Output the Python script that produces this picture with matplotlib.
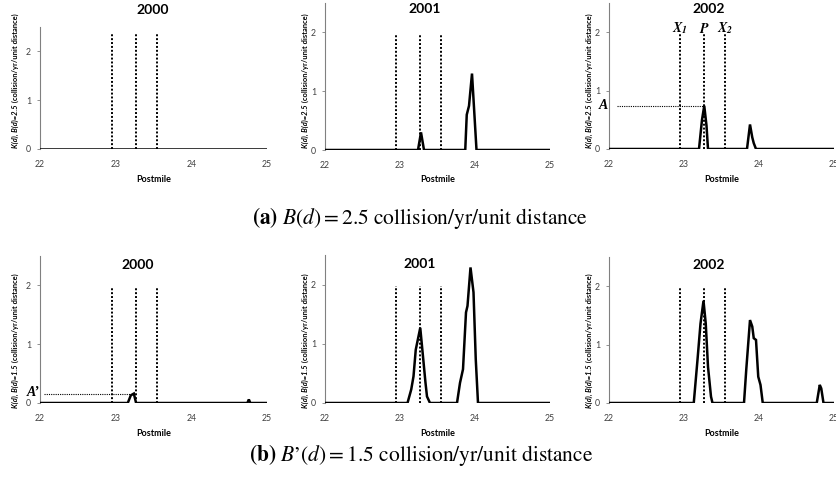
import matplotlib
matplotlib.use("Agg")
import matplotlib.pyplot as plt

plt.rcParams['font.family'] = ['Lato', 'DejaVu Sans']

W, H = 836, 491

# postmile / density readings (top row: B(d)=2.5, bottom row: B'(d)=1.5)
top_2000_x = [22, 25]
top_2000_y = [0, 0]
top_2001_x = [22, 23.24, 23.28, 23.32, 23.87, 23.89, 23.92, 23.96, 24.02, 25]
top_2001_y = [0, 0, 0.30, 0, 0, 0.60, 0.75, 1.30, 0, 0]
top_2002_x = [22, 23.20, 23.24, 23.27, 23.30, 23.32, 23.84, 23.88, 23.91, 23.93, 23.96, 25]
top_2002_y = [0, 0, 0.50, 0.74, 0.40, 0, 0, 0.42, 0.20, 0.10, 0, 0]

bot_2000_x = [22, 23.16, 23.20, 23.24, 23.27, 24.74, 24.76, 24.78, 25]
bot_2000_y = [0, 0, 0.13, 0.16, 0, 0, 0.06, 0, 0]
bot_2001_x = [22, 23.10, 23.15, 23.18, 23.21, 23.27, 23.31, 23.34, 23.36, 23.40,
              23.76, 23.80, 23.84, 23.88, 23.90, 23.94, 23.98, 24.01, 24.04, 25]
bot_2001_y = [0, 0, 0.23, 0.45, 0.90, 1.27, 0.74, 0.34, 0.11, 0,
              0, 0.34, 0.57, 1.53, 1.64, 2.29, 1.87, 0.74, 0, 0]
bot_2002_x = [22, 23.13, 23.18, 23.22, 23.26, 23.29, 23.32, 23.36, 23.38,
              23.80, 23.83, 23.88, 23.91, 23.93, 23.96, 23.99, 24.02, 24.05,
              24.77, 24.81, 24.83, 24.86, 25]
bot_2002_y = [0, 0, 0.74, 1.36, 1.75, 1.36, 0.62, 0.11, 0,
              0, 0.57, 1.42, 1.31, 1.11, 1.08, 0.45, 0.31, 0,
              0, 0.31, 0.25, 0, 0]

years = ['2000', '2001', '2002']
marks = [22.95, 23.27, 23.55]          # X1, P, X2
mark_top = [[2.36, 1.98, 1.98], [1.97, 1.97, 1.97]]
peak_A = 0.74
peak_A2 = 0.16

series = [[(top_2000_x, top_2000_y), (top_2001_x, top_2001_y), (top_2002_x, top_2002_y)],
          [(bot_2000_x, bot_2000_y), (bot_2001_x, bot_2001_y), (bot_2002_x, bot_2002_y)]]

# axes boxes in pixels: left, right, top, bottom
boxes = [[(40, 267, 27, 149), (325, 550, 3, 150), (609, 834, 3, 149)],
         [(40, 267, 256, 403), (325, 550, 255, 403), (609, 834, 257, 403)]]
title_pos = [[(153, 10), (425, 9), (709, 9)],
             [(138, 265), (420, 264), (709, 265)]]
ylab_x = [15, 305, 589]
ylab_start = [148, 408]
bvals = ['2.5', '1.5']

fig = plt.figure(figsize=(W / 100, H / 100), dpi=100)

def fx(px):
    return px / W

def fy(py):
    return 1 - py / H

axes = []
for r in range(2):
    for c in range(3):
        l, rr, t, b = boxes[r][c]
        ax = fig.add_axes([fx(l), fy(b), (rr - l) / W, (b - t) / H])
        axes.append(ax)
        x, y = series[r][c]
        ax.plot(x, y, color='black', lw=1.8, solid_joinstyle='miter', zorder=3)
        for m in marks:
            ax.plot([m, m], [0, mark_top[r][c]], color='black', lw=1.4, ls=(0, (1, 1)), zorder=2)
        ax.set_xlim(22, 25)
        ax.set_ylim(0, 2.5)
        ax.set_xticks([22, 23, 24, 25])
        ax.set_yticks([0, 1, 2])
        for s in ['top', 'right', 'bottom']:
            ax.spines[s].set_visible(False)
        ax.spines['left'].set_color('#808080')
        ax.spines['left'].set_linewidth(0.8)
        ax.tick_params(axis='y', length=2.5, width=0.6, color='#808080', labelsize=6.3,
                       labelcolor='#404040', pad=4)
        ax.tick_params(axis='x', length=0, labelsize=6.3, labelcolor='#404040', pad=8)
        ax.patch.set_visible(False)
        tx, ty = title_pos[r][c]
        fig.text(fx(tx), fy(ty), years[c], ha='center', va='center',
                 fontsize=10, fontweight='bold')
        fig.text(fx((l + rr) / 2), fy(180 if r == 0 else 433), 'Postmile',
                 ha='center', va='center', fontsize=6.5, fontweight='bold')
        t1 = fig.text(fx(ylab_x[c]), fy(ylab_start[r]), 'K(d), B(d)=' + bvals[r],
                      rotation=90, ha='center', va='bottom', fontsize=5.4,
                      fontweight='bold', fontstyle='italic')
        fig.texts.append(matplotlib.text.Annotation(
            ' (collision/yr/unit distance)', xy=(0.5, 1), xycoords=t1,
            rotation=90, ha='center', va='bottom', fontsize=5.4, fontweight='bold'))
        fig.texts[-1].set_figure(fig)

# annotations on the 2002 / 2000 panels
ax3 = axes[2]
ax3.plot([22.1, 23.27], [peak_A, peak_A], color='black', lw=0.8, ls=(0, (1, 1)))
ax3.text(21.99, peak_A, 'A', ha='right', va='center', fontsize=10,
         fontweight='bold', fontstyle='italic', family='Liberation Serif', clip_on=False)
for m, lab in zip(marks, [r'$\mathbfit{X}_\mathbfit{1}$', r'$\mathbfit{P}$', r'$\mathbfit{X}_\mathbfit{2}$']):
    ax3.text(m, 2.07, lab, ha='center', va='center', fontsize=10, math_fontfamily='stix')

ax4 = axes[3]
ax4.plot([22.05, 23.24], [peak_A2, peak_A2], color='black', lw=0.8, ls=(0, (1, 1)))
ax4.text(21.99, peak_A2 + 0.02, 'A’', ha='right', va='center', fontsize=10,
         fontweight='bold', fontstyle='italic', family='Liberation Serif', clip_on=False)

fig.text(fx(420), fy(218), r"$\mathbf{(a)}\ \mathit{B(d)} = \mathrm{2.5\ collision/yr/unit\ distance}$",
         ha='center', va='center', fontsize=15.5, math_fontfamily='stix')
fig.text(fx(421), fy(455), r"$\mathbf{(b)}\ \mathit{B’(d)} = \mathrm{1.5\ collision/yr/unit\ distance}$",
         ha='center', va='center', fontsize=15.5, math_fontfamily='stix')

fig.savefig('out.png', dpi=100)
